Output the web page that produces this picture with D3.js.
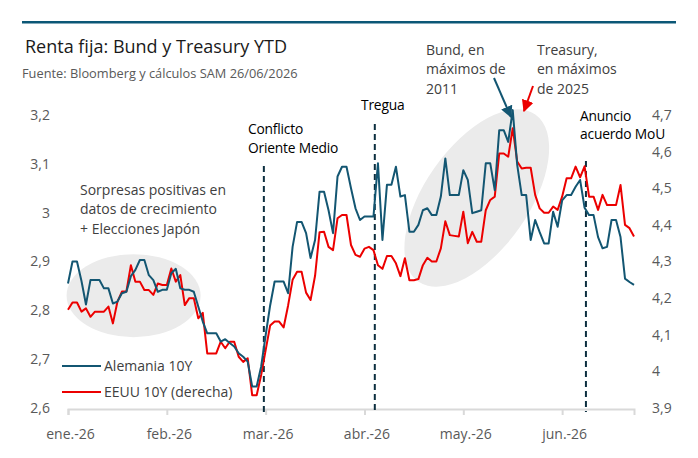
<!DOCTYPE html>
<html>
<head>
<meta charset="utf-8">
<script src="https://cdn.jsdelivr.net/npm/d3@7"></script>
<style>
  html, body { margin: 0; padding: 0; background: #fff; }
  svg { display: block; font-family: "Open Sans", "Noto Sans", sans-serif; }
</style>
</head>
<body>
<svg id="chart" width="698" height="458"></svg>
<script>
// ---- data (trading-day index from 2 Jan 2026 to 26 Jun 2026) ----
const monthLabels = ["ene.-26", "feb.-26", "mar.-26", "abr.-26", "may.-26", "jun.-26"];
const monthStartIdx = [0, 22, 44, 66, 88, 110];

const bund10y = [
  2.855, 2.90, 2.90, 2.86, 2.812, 2.862, 2.862, 2.862, 2.845, 2.845,
  2.814, 2.818, 2.835, 2.838, 2.87, 2.883, 2.903, 2.903, 2.872, 2.862,
  2.838, 2.842, 2.842, 2.876, 2.885, 2.845, 2.842, 2.842, 2.838, 2.808,
  2.777, 2.753, 2.753, 2.753, 2.736, 2.741, 2.733, 2.726, 2.712, 2.705,
  2.695, 2.644, 2.644, 2.685, 2.749, 2.81, 2.859, 2.859, 2.859, 2.835,
  2.93, 2.981, 2.981, 2.958, 2.907, 2.944, 3.043, 3.043, 3.005, 2.958,
  3.074, 3.094, 3.094, 3.050, 3.009, 2.985, 2.992, 2.992, 2.992, 3.101,
  2.944, 3.057, 3.057, 3.094, 3.033, 3.036, 2.961, 2.961, 2.975, 3.005,
  3.009, 2.995, 2.995, 3.033, 3.111, 3.036, 3.036, 3.036, 3.087, 3.067,
  2.999, 3.002, 3.005, 3.101, 3.101, 3.046, 3.169, 3.169, 3.145, 3.210,
  3.098, 3.036, 3.036, 2.944, 2.985, 2.96, 2.937, 2.937, 3.002, 2.971,
  3.025, 3.036, 3.036, 3.053, 3.067, 3.010, 2.995, 2.995, 2.95, 2.927,
  2.930, 2.985, 2.985, 2.95, 2.865, 2.858, 2.852
];

const ust10y = [
  4.168, 4.188, 4.188, 4.163, 4.172, 4.149, 4.163, 4.163, 4.163, 4.177,
  4.131, 4.19, 4.218, 4.218, 4.290, 4.245, 4.245, 4.222, 4.222, 4.209,
  4.240, 4.236, 4.236, 4.281, 4.245, 4.263, 4.181, 4.200, 4.200, 4.145,
  4.16, 4.049, 4.049, 4.049, 4.081, 4.063, 4.081, 4.081, 4.04, 4.026,
  4.036, 3.935, 3.935, 3.99, 4.058, 4.125, 4.136, 4.136, 4.12, 4.18,
  4.25, 4.272, 4.272, 4.215, 4.195, 4.261, 4.38, 4.381, 4.340, 4.331,
  4.418, 4.427, 4.427, 4.345, 4.318, 4.313, 4.335, 4.340, 4.331, 4.290,
  4.280, 4.315, 4.315, 4.295, 4.26, 4.309, 4.249, 4.249, 4.252, 4.29,
  4.31, 4.30, 4.30, 4.336, 4.41, 4.372, 4.370, 4.368, 4.436, 4.35,
  4.381, 4.354, 4.354, 4.44, 4.468, 4.477, 4.595, 4.595, 4.586, 4.664,
  4.573, 4.554, 4.556, 4.556, 4.482, 4.445, 4.433, 4.433, 4.450, 4.441,
  4.477, 4.527, 4.527, 4.559, 4.53, 4.56, 4.477, 4.477, 4.441, 4.482,
  4.454, 4.454, 4.454, 4.509, 4.40, 4.391, 4.368
];

const leftTicks = [2.6, 2.7, 2.8, 2.9, 3.0, 3.1, 3.2];
const rightTicks = [3.9, 4.0, 4.1, 4.2, 4.3, 4.4, 4.5, 4.6, 4.7];
const seriesNames = ["Alemania 10Y", "EEUU 10Y (derecha)"];

// event positions (trading-day index)
const eventIdx = [43.6, 68.3, 115.3];
const eventLabels = [["Conflicto", "Oriente Medio"], ["Tregua"], ["Anuncio", "acuerdo MoU"]];

// ---- drawing ----
const BLUE = "#135672";
const RED = "#ec0000";
const svg = d3.select("#chart");

const x = d3.scaleLinear().domain([0, 126]).range([68, 634]);
const yL = d3.scaleLinear().domain([2.6, 3.2]).range([408, 115]);
const yR = d3.scaleLinear().domain([3.9, 4.7]).range([408, 115]);
const fmt = d => String(+d.toFixed(1)).replace(".", ",");

// header
svg.append("rect").attr("x", 22).attr("y", 21).attr("width", 654).attr("height", 2.5).attr("fill", "#0b5776");
svg.append("text").attr("x", 25).attr("y", 53).attr("font-size", 18).attr("fill", "#1a1a1a")
  .text("Renta fija: Bund y Treasury YTD");
svg.append("text").attr("x", 22).attr("y", 78).attr("font-size", 12.8).attr("fill", "#595959")
  .text("Fuente: Bloomberg y cálculos SAM 26/06/2026");

// highlight ellipses
svg.append("ellipse").attr("cx", x(14.6)).attr("cy", yL(2.83)).attr("rx", 67).attr("ry", 41.5).attr("fill", "#ebebeb");
svg.append("ellipse")
  .attr("transform", `translate(${x(91)},${yL(3.03)}) rotate(-55)`)
  .attr("rx", 102).attr("ry", 52).attr("fill", "#ebebeb");

// x axis
const xAxis = d3.axisBottom(x).tickValues(monthStartIdx)
  .tickFormat((d, i) => monthLabels[i]).tickSize(6).tickPadding(14);
const gx = svg.append("g").attr("transform", "translate(0,409)").call(xAxis);
gx.select(".domain").attr("stroke", "#d9d9d9").attr("stroke-width", 2);
gx.selectAll(".tick line").attr("stroke", "#d9d9d9").attr("stroke-width", 2);
gx.selectAll(".tick text").attr("font-size", 14).attr("fill", "#595959")
  .attr("font-family", "'Open Sans', sans-serif").attr("dx", 2);

// left axis
const gyl = svg.append("g").attr("transform", "translate(68,0)")
  .call(d3.axisLeft(yL).tickValues(leftTicks).tickFormat(fmt).tickSize(0).tickPadding(18));
gyl.select(".domain").remove();
gyl.selectAll(".tick text").attr("font-size", 14).attr("fill", "#595959")
  .attr("font-family", "'Open Sans', sans-serif");

// right axis
const gyr = svg.append("g").attr("transform", "translate(634,0)")
  .call(d3.axisRight(yR).tickValues(rightTicks).tickFormat(fmt).tickSize(0).tickPadding(18));
gyr.select(".domain").remove();
gyr.selectAll(".tick text").attr("font-size", 14).attr("fill", "#595959")
  .attr("font-family", "'Open Sans', sans-serif");

// event lines
const eventTop = [166, 124, 161];
eventIdx.forEach((e, i) => {
  svg.append("line").attr("x1", x(e)).attr("x2", x(e)).attr("y1", eventTop[i]).attr("y2", 412)
    .attr("stroke", "#0d2f40").attr("stroke-width", 2).attr("stroke-dasharray", "6,4");
});

// series lines
const lineL = d3.line().x((d, i) => x(i)).y(d => yL(d));
const lineR = d3.line().x((d, i) => x(i)).y(d => yR(d));
svg.append("path").datum(ust10y).attr("d", lineR).attr("fill", "none")
  .attr("stroke", RED).attr("stroke-width", 2).attr("stroke-linejoin", "round");
svg.append("path").datum(bund10y).attr("d", lineL).attr("fill", "none")
  .attr("stroke", BLUE).attr("stroke-width", 2).attr("stroke-linejoin", "round");

// event labels
const eventLabelPos = [[248, 134], [361, 110], [580, 121]];
eventLabels.forEach((lines, i) => {
  const t = svg.append("text").attr("x", eventLabelPos[i][0]).attr("y", eventLabelPos[i][1])
    .attr("font-size", 13.8).attr("fill", "#000").attr("letter-spacing", -0.2);
  lines.forEach((l, j) => t.append("tspan").attr("x", eventLabelPos[i][0]).attr("dy", j ? (i === 2 ? 18 : 19) : 0).text(l));
});

// text annotations
function multi(xp, yp, lines, color) {
  const t = svg.append("text").attr("x", xp).attr("y", yp).attr("font-size", 14).attr("fill", color);
  lines.forEach((l, j) => t.append("tspan").attr("x", xp).attr("dy", j ? 19.3 : 0).text(l));
}
multi(80, 195, ["Sorpresas positivas en", "datos de crecimiento", "+ Elecciones Japón"], "#404040");
multi(426, 55, ["Bund, en", "máximos de", "2011"], "#404040");
multi(537, 55, ["Treasury,", "en máximos", "de 2025"], "#404040");

// arrows
const defs = svg.append("defs");
[["ahB", BLUE], ["ahR", RED]].forEach(([id, c]) => {
  defs.append("marker").attr("id", id).attr("viewBox", "0 0 10 10").attr("refX", 9).attr("refY", 5)
    .attr("markerWidth", 6).attr("markerHeight", 6).attr("orient", "auto-start-reverse")
    .attr("markerUnits", "strokeWidth")
    .append("path").attr("d", "M0,0 L10,5 L0,10 z").attr("fill", c);
});
svg.append("line").attr("x1", 494).attr("y1", 78).attr("x2", 511).attr("y2", 117)
  .attr("stroke", BLUE).attr("stroke-width", 2).attr("marker-end", "url(#ahB)");
svg.append("line").attr("x1", 533).attr("y1", 86).attr("x2", 524).attr("y2", 111)
  .attr("stroke", RED).attr("stroke-width", 2).attr("marker-end", "url(#ahR)");

// legend
const legendY = [366, 392];
[BLUE, RED].forEach((c, i) => {
  svg.append("line").attr("x1", 62).attr("x2", 101).attr("y1", legendY[i]).attr("y2", legendY[i])
    .attr("stroke", c).attr("stroke-width", 2);
  svg.append("text").attr("x", 104).attr("y", legendY[i] + 5).attr("font-size", 14)
    .attr("fill", "#404040").text(seriesNames[i]);
});
</script>
</body>
</html>
